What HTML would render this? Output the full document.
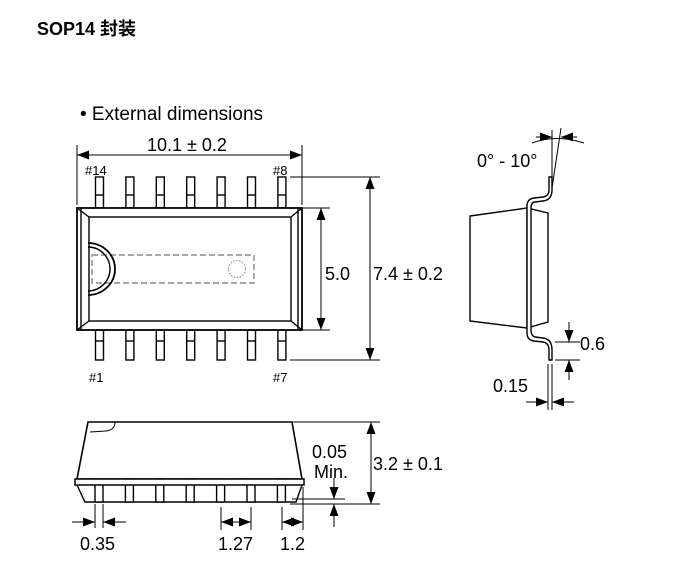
<!DOCTYPE html>
<html><head><meta charset="utf-8"><style>
body{margin:0;background:#fff;width:676px;height:573px;overflow:hidden}
svg{display:block}
text{font-family:"Liberation Sans",Arial,sans-serif;fill:#000}
</style></head><body>
<svg width="676" height="573" viewBox="0 0 676 573">
<defs>
<marker id="a" viewBox="0 0 12 10" refX="12" refY="5" markerWidth="12" markerHeight="10" orient="auto-start-reverse" markerUnits="userSpaceOnUse"><path d="M0,0.5 L12,5 L0,9.5z" fill="#000"/></marker>
</defs>
<text x="37" y="35" font-size="18" font-weight="bold" style="font-family:'Liberation Sans','Noto Sans CJK SC',sans-serif">SOP14 封装</text>
<text x="80" y="120" font-size="19">• External dimensions</text>
<g stroke="#000" fill="none" stroke-width="1.4">
<g id="pt">
<rect x="95.5" y="177" width="8" height="31"/><line x1="95.5" y1="195" x2="103.5" y2="195"/>
</g>
<use href="#pt" x="30.4"/><use href="#pt" x="60.8"/><use href="#pt" x="91.2"/><use href="#pt" x="121.6"/><use href="#pt" x="152"/><use href="#pt" x="182.4"/>
<g id="pb"><rect x="95.5" y="330" width="8" height="30"/><line x1="95.5" y1="341" x2="103.5" y2="341"/></g>
<use href="#pb" x="30.4"/><use href="#pb" x="60.8"/><use href="#pb" x="91.2"/><use href="#pb" x="121.6"/><use href="#pb" x="152"/><use href="#pb" x="182.4"/>
<rect x="77" y="208" width="225" height="122" fill="#fff" stroke-width="1.8"/>
<rect x="89" y="217" width="202" height="104"/>
<line x1="77" y1="208" x2="89" y2="217"/><line x1="302" y1="208" x2="291" y2="217"/>
<line x1="77" y1="330" x2="89" y2="321"/><line x1="302" y1="330" x2="291" y2="321"/>
<line x1="81" y1="208" x2="81" y2="330"/><line x1="298" y1="208" x2="298" y2="330"/>
<rect x="92" y="255" width="162" height="28" stroke="#888" stroke-dasharray="6,3"/>
<circle cx="237" cy="269" r="8.5" stroke="#888" stroke-dasharray="1.5,1.5" stroke-width="1"/>
<path d="M88,243 A27,26 0 0 1 88,295" stroke-width="1.8"/>
<path d="M88,247 A22,22 0 0 1 88,291"/>
<line x1="77" y1="145" x2="77" y2="205" stroke-width="1"/><line x1="302" y1="145" x2="302" y2="205" stroke-width="1"/>
<line x1="77" y1="155" x2="302" y2="155" stroke-width="1" marker-start="url(#a)" marker-end="url(#a)"/>
<line x1="302" y1="208" x2="330" y2="208" stroke-width="1"/><line x1="302" y1="330" x2="330" y2="330" stroke-width="1"/>
<line x1="321" y1="208" x2="321" y2="330" stroke-width="1" marker-start="url(#a)" marker-end="url(#a)"/>
<line x1="290" y1="177" x2="380" y2="177" stroke-width="1"/><line x1="290" y1="360" x2="380" y2="360" stroke-width="1"/>
<line x1="370" y1="177" x2="370" y2="360" stroke-width="1" marker-start="url(#a)" marker-end="url(#a)"/>
<path d="M470,216 L527,208 L548,213 L548,322 L527,328 L470,321Z" fill="#fff"/>
<line x1="527" y1="208" x2="527" y2="328"/>
<path d="M549,177 L549,190 Q549,196 543,197 L534,198 Q527,199 527,206 L527,333 Q527,340 534,341 L543,342 Q549,343 549,350 L549,360 L552,360 L552,350 Q552,339 543,338 L535,337 Q531,336 531,330 L531,208 Q531,202 535,202 L543,201 Q552,200 552,190 L552,177 Z" fill="#fff"/>
<line x1="552" y1="188" x2="561" y2="128" stroke-width="1"/>
<line x1="552" y1="130" x2="552" y2="177" stroke-width="1"/>
<path d="M532,143 Q556,134 584,143" stroke-width="1"/>
<line x1="536" y1="137" x2="552" y2="137" stroke-width="1" marker-end="url(#a)"/>
<line x1="577" y1="137" x2="561" y2="137" stroke-width="1" marker-end="url(#a)"/>
<line x1="555" y1="342" x2="580" y2="342" stroke-width="1"/><line x1="555" y1="360" x2="580" y2="360" stroke-width="1"/>
<line x1="569" y1="322" x2="569" y2="342" stroke-width="1" marker-end="url(#a)"/>
<line x1="569" y1="380" x2="569" y2="360" stroke-width="1" marker-end="url(#a)"/>
<line x1="548" y1="364" x2="548" y2="410" stroke-width="1"/><line x1="552" y1="364" x2="552" y2="410" stroke-width="1"/>
<line x1="526" y1="402" x2="548" y2="402" stroke-width="1" marker-end="url(#a)"/>
<line x1="574" y1="402" x2="552" y2="402" stroke-width="1" marker-end="url(#a)"/>
<path d="M88,422 L292,422 L302,479 L77,479Z" fill="#fff" stroke-width="1.6"/>
<path d="M88,422 L115,422 Q115,430 106,431 L90,432" stroke-width="1"/>
<path d="M77,485 L85,502 L296,502 L302,485" />
<g id="pp"><rect x="95" y="479" width="8" height="23" fill="#fff"/></g>
<use href="#pp" x="30.4"/><use href="#pp" x="60.8"/><use href="#pp" x="91.2"/><use href="#pp" x="121.6"/><use href="#pp" x="152"/><use href="#pp" x="182.4"/>
<rect x="75" y="479" width="229" height="6" fill="#fff" stroke-width="1.5"/>
<line x1="292" y1="422" x2="380" y2="422" stroke-width="1"/>
<line x1="371" y1="422" x2="371" y2="504" stroke-width="1" marker-start="url(#a)" marker-end="url(#a)"/>
<line x1="292" y1="499" x2="345" y2="499" stroke-width="1"/><line x1="290" y1="504" x2="380" y2="504" stroke-width="1"/>
<line x1="334" y1="478" x2="334" y2="499" stroke-width="1" marker-end="url(#a)"/>
<line x1="334" y1="527" x2="334" y2="504" stroke-width="1" marker-end="url(#a)"/>
<line x1="95" y1="504" x2="95" y2="528" stroke-width="1"/><line x1="103" y1="504" x2="103" y2="528" stroke-width="1"/>
<line x1="72" y1="522" x2="95" y2="522" stroke-width="1" marker-end="url(#a)"/>
<line x1="126" y1="522" x2="103" y2="522" stroke-width="1" marker-end="url(#a)"/>
<line x1="221" y1="507" x2="221" y2="530" stroke-width="1"/><line x1="251" y1="507" x2="251" y2="530" stroke-width="1"/>
<line x1="221" y1="522" x2="251" y2="522" stroke-width="1" marker-start="url(#a)" marker-end="url(#a)"/>
<line x1="282" y1="507" x2="282" y2="530" stroke-width="1"/><line x1="303" y1="487" x2="303" y2="530" stroke-width="1"/>
<line x1="282" y1="522" x2="303" y2="522" stroke-width="1" marker-start="url(#a)" marker-end="url(#a)"/>
</g>
<g font-size="18">
<text x="147" y="151">10.1 ± 0.2</text>
<text x="325" y="280">5.0</text>
<text x="373" y="280">7.4 ± 0.2</text>
<text x="477" y="167">0° - 10°</text>
<text x="580" y="350">0.6</text>
<text x="493" y="392">0.15</text>
<text x="312" y="458">0.05</text>
<text x="314" y="478">Min.</text>
<text x="373" y="470">3.2 ± 0.1</text>
<text x="80" y="550">0.35</text>
<text x="218" y="550">1.27</text>
<text x="280" y="550">1.2</text>
</g>
<g font-size="13">
<text x="85" y="175">#14</text><text x="273" y="175">#8</text>
<text x="89" y="382">#1</text><text x="273" y="382">#7</text>
</g>
</svg>
</body></html>
